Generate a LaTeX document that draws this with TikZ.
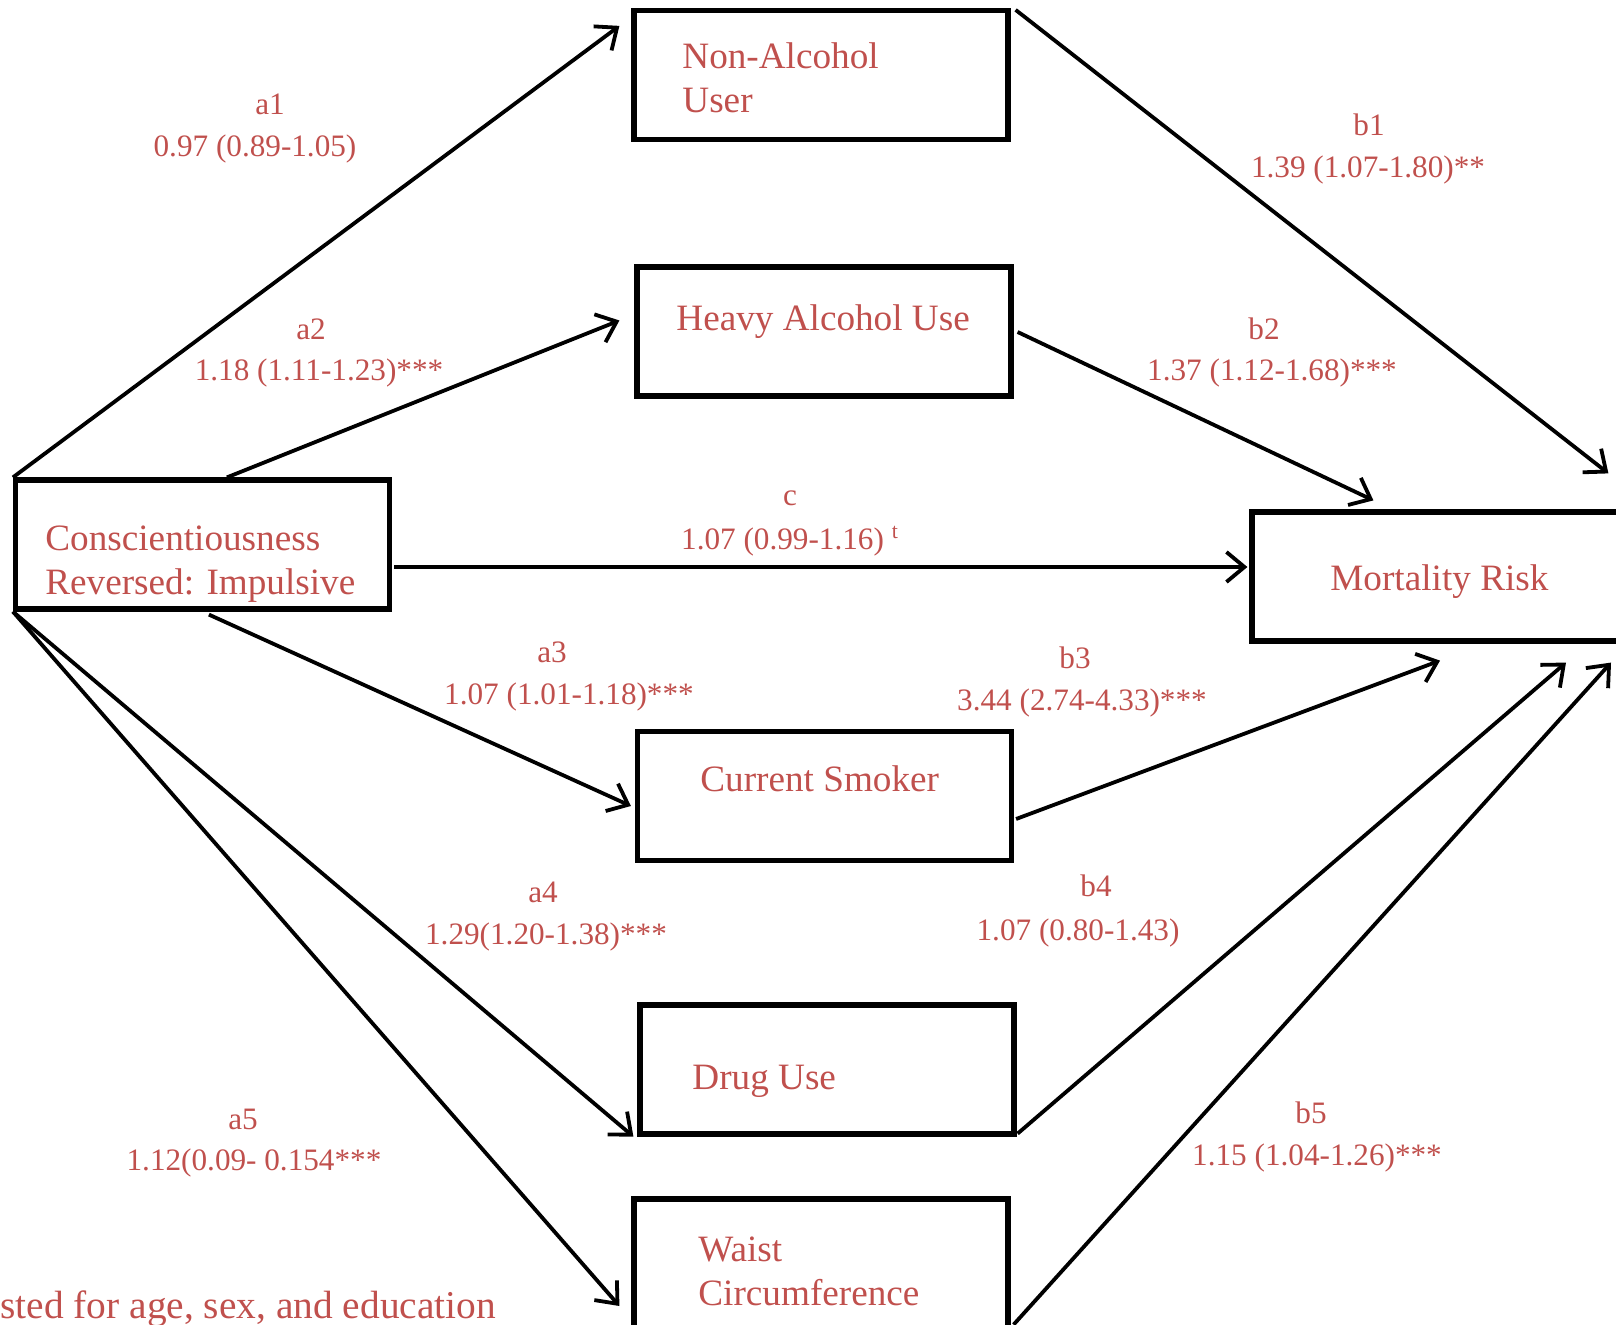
\documentclass[tikz,border=0pt]{standalone}
\usepackage{fontspec}
\setmainfont{Liberation Serif}
\usetikzlibrary{arrows.meta,calc}
\definecolor{txtred}{HTML}{C0504D}
\begin{document}
\begin{tikzpicture}[x=0.5pt, y=-0.5pt, >={Straight Barb[length=9pt,width=15pt]},
    box/.style={draw, line width=2.6pt, minimum width=187pt, minimum height=64.5pt, inner sep=0pt},
    boxtext/.style={text=txtred, font=\fontsize{18.6}{22}\selectfont, align=left, anchor=base west, inner sep=0pt},
    coef/.style={text=txtred, font=\fontsize{15.6}{18}\selectfont, inner sep=0pt},
    link/.style={->, line width=1.9pt}]
            \useasboundingbox (0,0) rectangle (1616,1325);
            \clip (0,0) rectangle (1616,1325);

            % 方框
            \node[box] (cons) at (202.5,544.5) {};
            \node[box] (nonalc) at (821,75) {};
            \node[box] (heavy) at (824,331.5) {};
            \node[box] (smoker) at (824.5,796) {};
            \node[box] (drug) at (827,1069.5) {};
            \node[box] (waist) at (821,1263.5) {};
            \node[box] (mort) at (1439,576.5) {};

            % 方框文字
            \node[boxtext] (tcons) at (45,595) {Conscientiousness\\Reversed: Impulsive};
            \node[boxtext] (tnonalc) at (682,113) {Non-Alcohol\\User};
            \node[boxtext] (theavy) at (676,331) {Heavy Alcohol Use};
            \node[boxtext] (tsmoker) at (700,791) {Current Smoker};
            \node[boxtext] (tdrug) at (692,1089) {Drug Use};
            \node[boxtext] (twaist) at (698,1305) {Waist\\Circumference};
            \node[boxtext] (tmort) at (1330,591) {Mortality Risk};

            % a 路径
            \draw[link] (cons.north west) -- ($(nonalc.north west)+(-12,18)$);
            \draw[link] ($(cons.north west)+(214,0)$) -- ($(heavy.west)+(-15,-11)$);
            \draw[link] ($(cons.south west)+(196,3)$) -- ($(smoker.west)+(-4,10)$);
            \draw[link] (cons.south west) -- ($(drug.south west)+(-4,0)$);
            \draw[link] (cons.south west) -- ($(waist.west)+(-12,42.5)$);

            % 直接效应
            \draw[link] ($(cons.east)+(2,22.5)$) -- ($(mort.west)+(-2,-9.5)$);

            % b 路径
            \draw[link] ($(nonalc.north east)+(5,2)$) -- ($(mort.north west)+(359,-36)$);
            \draw[link] ($(heavy.east)+(4,0.5)$) -- ($(mort.north west)+(124,-9)$);
            \draw[link] ($(smoker.east)+(2,23)$) -- ($(mort.south)+(1,17)$);
            \draw[link] ($(drug.south east)+(1,-3)$) -- ($(mort.south)+(127,19)$);
            \draw[link] ($(waist.south east)+(3,-6)$) -- ($(mort.south)+(172,19)$);

            % 系数标注
            \node[coef] (la1) at (270,104) {a1};
            \node[coef] (va1) at (255,149) {0.97 (0.89-1.05)};
            \node[coef] (la2) at (311,329) {a2};
            \node[coef] (va2) at (319,373) {1.18 (1.11-1.23)***};
            \node[coef] (lc) at (790,498) {c};
            \node[coef] (vc) at (790,541) {1.07 (0.99-1.16) \textsuperscript{t}};
            \node[coef] (lb1) at (1369,125) {b1};
            \node[coef] (vb1) at (1368,170) {1.39 (1.07-1.80)**};
            \node[coef] (lb2) at (1264,329) {b2};
            \node[coef] (vb2) at (1272,373) {1.37 (1.12-1.68)***};
            \node[coef] (la3) at (552,652) {a3};
            \node[coef] (va3) at (569,697) {1.07 (1.01-1.18)***};
            \node[coef] (lb3) at (1075,658) {b3};
            \node[coef] (vb3) at (1082,703) {3.44 (2.74-4.33)***};
            \node[coef] (la4) at (543,892) {a4};
            \node[coef] (va4) at (546,937) {1.29(1.20-1.38)***};
            \node[coef] (lb4) at (1096,886) {b4};
            \node[coef] (vb4) at (1078,933) {1.07 (0.80-1.43)};
            \node[coef] (la5) at (243,1119) {a5};
            \node[coef] (va5) at (254,1163) {1.12(0.09- 0.154***};
            \node[coef] (lb5) at (1311,1113) {b5};
            \node[coef] (vb5) at (1317,1158) {1.15 (1.04-1.26)***};

            % 脚注
            \node[text=txtred, font=\fontsize{19.7}{23}\selectfont, anchor=base west, inner sep=0pt] (note) at (0,1318) {sted for age, sex, and education};
        \end{tikzpicture}
\end{document}
